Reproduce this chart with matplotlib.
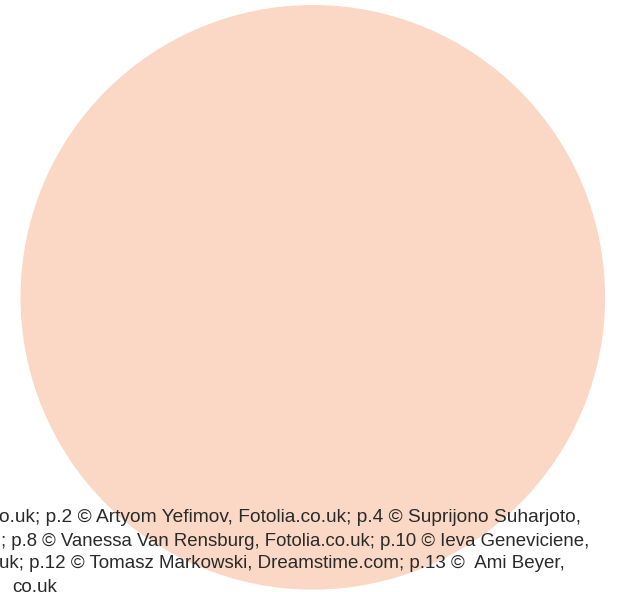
import matplotlib
matplotlib.use("Agg")
import matplotlib.pyplot as plt
from matplotlib.patches import Circle

W, H = 618, 592
circle_center = (312.8, 297.3)
circle_radius = 292.3
circle_color = "#FAD8C5"

credit_lines = [
    "o.uk; p.2 \u00a9 Artyom Yefimov, Fotolia.co.uk; p.4 \u00a9 Suprijono Suharjoto,",
    "; p.8 \u00a9 Vanessa Van Rensburg, Fotolia.co.uk; p.10 \u00a9 Ieva Geneviciene,",
    "uk; p.12 \u00a9 Tomasz Markowski, Dreamstime.com; p.13 \u00a9  Ami Beyer,",
    "co.uk",
]
line_x = [-1, 1, -1, 12]
line_baseline = [522, 545.5, 568.5, 591.5]
line_size = [13.75, 13.45, 13.5, 13.6]

fig = plt.figure(figsize=(W / 100, H / 100), dpi=100)
ax = fig.add_axes([0, 0, 1, 1])
ax.set_xlim(0, W)
ax.set_ylim(H, 0)
ax.axis("off")

ax.add_patch(Circle(circle_center, circle_radius, facecolor=circle_color,
                    edgecolor="none", zorder=1))

for txt, x, y, fs in zip(credit_lines, line_x, line_baseline, line_size):
    ax.text(x, y, txt, family=["Liberation Sans", "DejaVu Sans"],
            fontsize=fs, color="#2a2a2a", ha="left", va="baseline", zorder=2)

fig.savefig("out.png", dpi=100)
